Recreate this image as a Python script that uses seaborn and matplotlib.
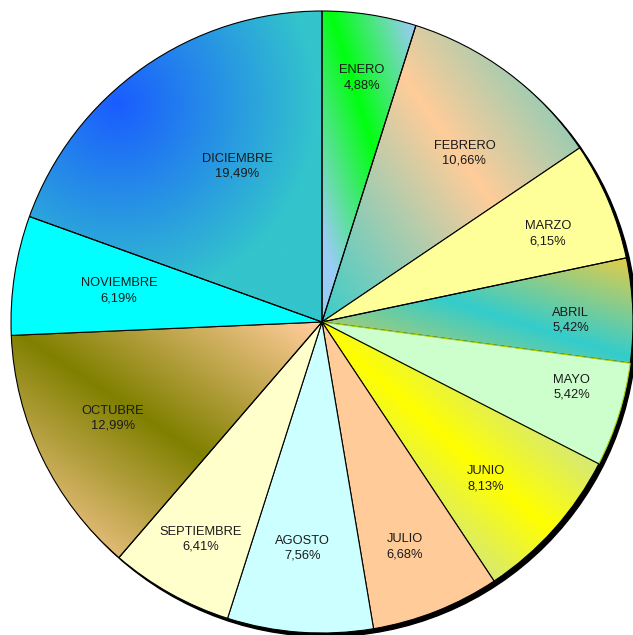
import numpy as np
import matplotlib
matplotlib.use("Agg")
import matplotlib.pyplot as plt
from matplotlib.colors import to_rgb
from matplotlib.patches import Circle
import seaborn as sns

# monthly shares (%)
months = ["ENERO", "FEBRERO", "MARZO", "ABRIL", "MAYO", "JUNIO",
          "JULIO", "AGOSTO", "SEPTIEMBRE", "OCTUBRE", "NOVIEMBRE", "DICIEMBRE"]
shares = [4.88, 10.66, 6.15, 5.42, 5.42, 8.13, 6.68, 7.56, 6.41, 12.99, 6.19, 19.49]

# label placement tweaks (radius fraction, angle shift in degrees)
label_dist = [0.795, 0.71, 0.78, 0.80, 0.83, 0.73, 0.77, 0.73, 0.80, 0.74, 0.66, 0.57]
label_shift = [-0.5, -3.4, -1.6, -1.7, 2.7, -1.9, -1.4, -0.8, 0.0, -1.1, 0.0, -6.5]

# slice fills: plain colour or gradient spec (in reference pixel coords)
fills = {
    "ENERO": ("band", (331, 13), (43, 137), "#00FF10", "#99CCF5", 75),
    "FEBRERO": ("band", (420, 100), (83, 117), "#FFCC99", "#33CCCC", 215),
    "MARZO": "#FFFF99",
    "ABRIL": ("band", (489, 313), (116, 37), "#33CCCC", "#FFCC33", 110),
    "MAYO": "#CCFFCC",
    "JUNIO": ("band", (349, 353), (206, 180), "#FFFF00", "#D8EA70", 75),
    "JULIO": "#FFCC99",
    "AGOSTO": "#CCFFFF",
    "SEPTIEMBRE": "#FFFFCC",
    "OCTUBRE": ("band", (17, 333), (180, 120), "#808000", "#FFCC99", 170),
    "NOVIEMBRE": "#00FFFF",
    "DICIEMBRE": ("radial", (117, 103), None, "#1A5CFF", "#33C4CC", 200),
}

sns.set_theme(style="white")
plt.rcParams['font.family'] = ['Liberation Sans', 'DejaVu Sans']

CX, CY, R = 322, 322, 311
W, H = 633, 635

fig = plt.figure(figsize=(W / 100, H / 100), dpi=100)
ax = fig.add_axes([0, 0, 1, 1])

# shadow behind the pie
ax.add_patch(Circle((0.0115, -0.0115), 1.0, color="black", zorder=0.2))

face = [fills[m] if isinstance(fills[m], str) else "none" for m in months]
wedges, _ = ax.pie(shares, colors=face, startangle=90, counterclock=False,
                   wedgeprops=dict(edgecolor="black", linewidth=0.8, zorder=1))
wedges[months.index("MAYO")].set_edgecolor("#A8D000")

# gradient fills clipped to their wedges
ext = 1.05
xs = np.linspace(-ext, ext, 900)
X, Y = np.meshgrid(xs, xs[::-1])
PX = CX + R * X
PY = CY - R * Y

def gradient(spec):
    kind, p0, d, c1, c2, w = spec
    if kind == "band":
        d = np.array(d, float)
        d /= np.hypot(*d)
        dist = np.abs((PX - p0[0]) * d[1] - (PY - p0[1]) * d[0])
    else:
        dist = np.hypot(PX - p0[0], PY - p0[1])
    t = np.clip(dist / w, 0, 1)[..., None]
    return (1 - t) * np.array(to_rgb(c1)) + t * np.array(to_rgb(c2))

for m, wdg in zip(months, wedges):
    if isinstance(fills[m], str):
        continue
    im = ax.imshow(gradient(fills[m]), extent=(-ext, ext, -ext, ext),
                   origin="upper", interpolation="bilinear", zorder=0.5)
    im.set_clip_path(wdg)

for i, wdg in enumerate(wedges):
    ang = np.deg2rad((wdg.theta1 + wdg.theta2) / 2 + label_shift[i])
    r = label_dist[i]
    txt = f"{months[i]}\n{shares[i]:.2f}%".replace(".", ",")
    ax.text(r * np.cos(ang), r * np.sin(ang), txt, ha="center", va="center",
            fontsize=9.3, color="#1a1a1a", linespacing=1.35, zorder=3)

ax.set_xlim(-CX / R, (W - CX) / R)
ax.set_ylim(-(H - CY) / R, CY / R)
ax.set_aspect("auto")
ax.axis("off")

fig.savefig("out.png", dpi=100, facecolor="white")
